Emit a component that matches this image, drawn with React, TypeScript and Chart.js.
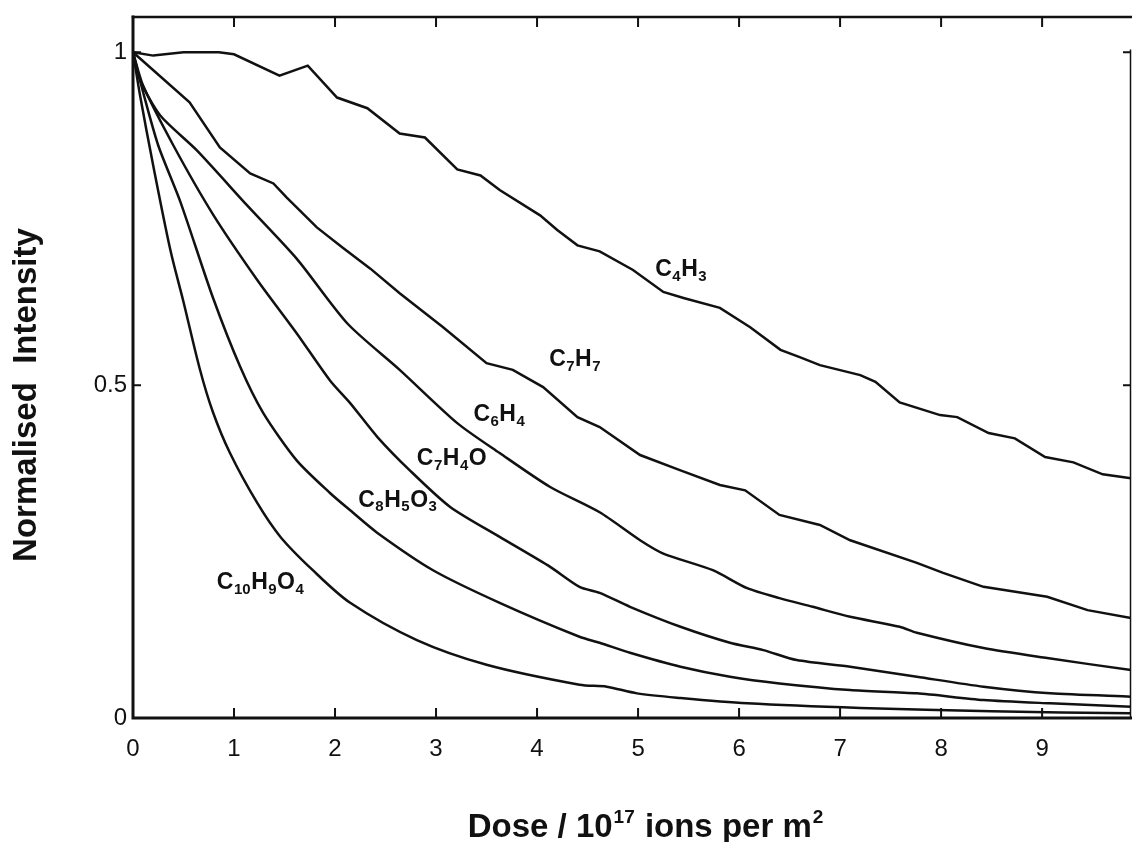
import React, { useEffect, useRef } from "react";
import { Chart, registerables } from "chart.js";

Chart.register(...registerables);

const W = 1132;
const H = 842;

const xTickValues = [0, 1, 2, 3, 4, 5, 6, 7, 8, 9];
const yTickValues = [0, 0.5, 1];
const yTickLabels = ["0", "0.5", "1"];
const xMin = 0;
const xMax = 9.88;
const yMin = 0;
const yMax = 1.053;

const doseC4H3 = [0, 0.2, 0.5, 0.85, 1.0, 1.45, 1.73, 2.02, 2.32, 2.64, 2.89, 3.21, 3.44, 3.63, 4.03, 4.2, 4.4, 4.62, 4.95, 5.25, 5.45, 5.81, 6.11, 6.41, 6.6, 6.8, 7.2, 7.35, 7.59, 7.99, 8.16, 8.47, 8.73, 9.03, 9.31, 9.6, 9.88];
const intC4H3 = [1, 0.995, 1.0, 1.0, 0.997, 0.965, 0.98, 0.932, 0.916, 0.878, 0.872, 0.824, 0.815, 0.793, 0.755, 0.733, 0.71, 0.701, 0.673, 0.64, 0.631, 0.616, 0.587, 0.553, 0.542, 0.53, 0.515, 0.505, 0.474, 0.455, 0.452, 0.428, 0.42, 0.392, 0.384, 0.366, 0.36];

const doseC7H7 = [0, 0.56, 0.86, 1.16, 1.39, 1.52, 1.82, 2.08, 2.35, 2.64, 3.07, 3.5, 3.76, 4.06, 4.4, 4.62, 5.02, 5.42, 5.81, 6.06, 6.4, 6.8, 7.1, 7.76, 8.02, 8.42, 9.05, 9.45, 9.88];
const intC7H7 = [1, 0.925, 0.857, 0.818, 0.803, 0.782, 0.737, 0.706, 0.675, 0.638, 0.587, 0.533, 0.523, 0.497, 0.452, 0.437, 0.395, 0.372, 0.35, 0.342, 0.305, 0.29, 0.267, 0.233, 0.218, 0.197, 0.182, 0.162, 0.15];

const doseC6H4 = [0, 0.07, 0.27, 0.63, 1.13, 1.62, 2.12, 2.64, 3.21, 3.63, 4.13, 4.62, 5.02, 5.25, 5.74, 6.08, 6.4, 6.73, 7.1, 7.59, 7.76, 8.42, 9.05, 9.88];
const intC6H4 = [1, 0.958, 0.905, 0.853, 0.77, 0.69, 0.593, 0.523, 0.443, 0.398, 0.347, 0.309, 0.267, 0.247, 0.222, 0.195, 0.18, 0.167, 0.152, 0.137, 0.128, 0.105, 0.09, 0.072];

const doseC7H4O = [0, 0.1, 0.4, 0.79, 1.23, 1.62, 1.95, 2.15, 2.42, 2.74, 3.14, 3.63, 4.13, 4.42, 4.62, 4.92, 5.42, 5.91, 6.24, 6.57, 7.1, 7.76, 8.42, 9.08, 9.88];
const intC7H4O = [1, 0.95, 0.86, 0.757, 0.658, 0.578, 0.507, 0.473, 0.422, 0.372, 0.317, 0.272, 0.227, 0.197, 0.188, 0.167, 0.137, 0.113, 0.102, 0.087, 0.077, 0.062, 0.047, 0.037, 0.032];

const doseC8H5O3 = [0, 0.1, 0.25, 0.47, 0.79, 1.06, 1.29, 1.62, 1.95, 2.15, 2.42, 2.97, 3.63, 4.42, 4.62, 4.92, 5.42, 5.91, 6.4, 7.1, 7.76, 8.42, 9.08, 9.88];
const intC8H5O3 = [1, 0.94, 0.86, 0.775, 0.632, 0.528, 0.458, 0.387, 0.338, 0.312, 0.278, 0.222, 0.173, 0.122, 0.113, 0.098, 0.077, 0.062, 0.052, 0.042, 0.037, 0.027, 0.022, 0.017];

const doseC10H9O4 = [0, 0.07, 0.2, 0.37, 0.5, 0.66, 0.79, 0.96, 1.23, 1.46, 1.78, 2.15, 2.81, 3.5, 4.42, 4.69, 4.99, 5.42, 6.08, 7.2, 8.5, 9.88];
const intC10H9O4 = [1, 0.935, 0.83, 0.703, 0.625, 0.525, 0.46, 0.398, 0.323, 0.272, 0.222, 0.173, 0.117, 0.08, 0.05, 0.047, 0.037, 0.03, 0.022, 0.015, 0.01, 0.007];

const seriesNames = ["C4H3", "C7H7", "C6H4", "C7H4O", "C8H5O3", "C10H9O4"];
const seriesDose = [doseC4H3, doseC7H7, doseC6H4, doseC7H4O, doseC8H5O3, doseC10H9O4];
const seriesInt = [intC4H3, intC7H7, intC6H4, intC7H4O, intC8H5O3, intC10H9O4];
const seriesTension = [0, 0, 0.25, 0.25, 0.25, 0.3];

const labelDose = [5.17, 4.12, 3.37, 2.81, 2.23, 0.83];
const labelInt = [0.673, 0.538, 0.455, 0.39, 0.327, 0.203];

const xTitleParts: [string, boolean][] = [
  ["Dose / 10", false],
  ["17", true],
  [" ions per m", false],
  ["2", true],
];
const yTitle = "Normalised  Intensity";

const FONT = "'Liberation Sans', Arial, Helvetica, sans-serif";

function drawFormula(ctx: CanvasRenderingContext2D, text: string, x: number, y: number) {
  const parts = text.match(/[A-Z][a-z]?|\d+/g) || [];
  let cx = x;
  ctx.textAlign = "left";
  ctx.textBaseline = "middle";
  for (const p of parts) {
    const sub = /\d/.test(p);
    ctx.font = sub ? `bold 15px ${FONT}` : `bold 23px ${FONT}`;
    ctx.fillText(p, cx, sub ? y + 7 : y);
    cx += ctx.measureText(p).width + 0.5;
  }
}

const framePlugin = {
  id: "frame",
  afterDatasetsDraw(chart: any) {
    const { ctx, chartArea: a, scales } = chart;
    const xs = scales.x;
    const ys = scales.y;
    ctx.save();
    ctx.strokeStyle = "#111";
    ctx.lineCap = "square";
    ctx.lineWidth = 3;
    ctx.beginPath();
    ctx.moveTo(a.left, a.top);
    ctx.lineTo(a.left, a.bottom);
    ctx.lineTo(a.right, a.bottom);
    ctx.stroke();
    ctx.lineWidth = 2.5;
    ctx.beginPath();
    ctx.moveTo(a.left, a.top);
    ctx.lineTo(a.right, a.top);
    ctx.stroke();
    ctx.lineWidth = 1.5;
    ctx.beginPath();
    ctx.moveTo(a.right - 0.5, ys.getPixelForValue(1) - 2);
    ctx.lineTo(a.right - 0.5, a.bottom);
    ctx.stroke();
    ctx.lineCap = "butt";
    ctx.lineWidth = 2;
    for (const v of xTickValues) {
      if (v === 0) continue;
      const px = xs.getPixelForValue(v);
      ctx.beginPath();
      ctx.moveTo(px, a.top);
      ctx.lineTo(px, a.top + 10);
      ctx.moveTo(px, a.bottom);
      ctx.lineTo(px, a.bottom - 10);
      ctx.stroke();
    }
    for (const v of yTickValues) {
      if (v === 0) continue;
      const py = ys.getPixelForValue(v);
      ctx.beginPath();
      ctx.moveTo(a.left, py);
      ctx.lineTo(a.left + 8, py);
      ctx.moveTo(a.right, py);
      ctx.lineTo(a.right - 8, py);
      ctx.stroke();
    }
    ctx.restore();
  },
  afterDraw(chart: any) {
    const { ctx, scales } = chart;
    const xs = scales.x;
    const ys = scales.y;
    ctx.save();
    ctx.fillStyle = "#111";
    for (let i = 0; i < seriesNames.length; i++) {
      drawFormula(ctx, seriesNames[i], xs.getPixelForValue(labelDose[i]), ys.getPixelForValue(labelInt[i]));
    }
    // y title
    ctx.save();
    ctx.translate(27, 395);
    ctx.rotate(-Math.PI / 2);
    ctx.font = `bold 33px ${FONT}`;
    ctx.textAlign = "center";
    ctx.textBaseline = "middle";
    ctx.fillText(yTitle, 0, 0);
    ctx.restore();
    // x title
    const base = 837;
    let total = 0;
    for (const [t, sup] of xTitleParts) {
      ctx.font = sup ? `bold 19px ${FONT}` : `bold 33px ${FONT}`;
      total += ctx.measureText(t).width + (sup ? 2 : 0);
    }
    let cx = 646 - total / 2;
    ctx.textAlign = "left";
    ctx.textBaseline = "alphabetic";
    for (const [t, sup] of xTitleParts) {
      ctx.font = sup ? `bold 19px ${FONT}` : `bold 33px ${FONT}`;
      ctx.fillText(t, cx + (sup ? 1 : 0), sup ? base - 14 : base);
      cx += ctx.measureText(t).width + (sup ? 2 : 0);
    }
    ctx.restore();
  },
};

export default function App() {
  const ref = useRef<HTMLCanvasElement | null>(null);
  useEffect(() => {
    const canvas = ref.current;
    if (!canvas) return;
    const datasets = seriesNames.map((name, i) => ({
      label: name,
      data: seriesDose[i].map((d, j) => ({ x: d, y: seriesInt[i][j] })),
      borderColor: "#111",
      backgroundColor: "#111",
      borderWidth: 2.5,
      pointRadius: 0,
      tension: seriesTension[i],
      fill: false,
    }));
    const chart = new Chart(canvas, {
      type: "line",
      data: { datasets },
      options: {
        responsive: false,
        maintainAspectRatio: false,
        animation: false,
        devicePixelRatio: 1,
        layout: { padding: { left: 0, right: 1, top: 17, bottom: 0 } },
        plugins: {
          legend: { display: false },
          tooltip: { enabled: false },
          title: { display: false },
        },
        scales: {
          x: {
            type: "linear",
            min: xMin,
            max: xMax,
            grid: { display: false, drawTicks: false },
            border: { display: false },
            afterBuildTicks: (s: any) => {
              s.ticks = xTickValues.map((v) => ({ value: v }));
            },
            afterFit: (s: any) => {
              s.height = H - 718;
              s.paddingLeft = 0;
              s.paddingRight = 0;
            },
            ticks: {
              padding: 17,
              autoSkip: false,
              maxRotation: 0,
              color: "#111",
              font: { family: FONT, size: 24 },
              callback: (v: any) => String(v),
            },
          },
          y: {
            type: "linear",
            min: yMin,
            max: yMax,
            grid: { display: false, drawTicks: false },
            border: { display: false },
            afterBuildTicks: (s: any) => {
              s.ticks = yTickValues.map((v) => ({ value: v }));
            },
            afterFit: (s: any) => {
              s.width = 133;
              s.paddingTop = 0;
              s.paddingBottom = 0;
            },
            ticks: {
              padding: 6,
              autoSkip: false,
              color: "#111",
              font: { family: FONT, size: 24 },
              callback: (_v: any, idx: number) => yTickLabels[idx],
            },
          },
        },
      },
      plugins: [framePlugin],
    } as any);
    return () => chart.destroy();
  }, []);
  return (
    <div style={{ position: "absolute", left: 0, top: 0, width: W, height: H, background: "#fff" }}>
      <canvas ref={ref} width={W} height={H} style={{ width: W, height: H, display: "block" }} />
    </div>
  );
}
